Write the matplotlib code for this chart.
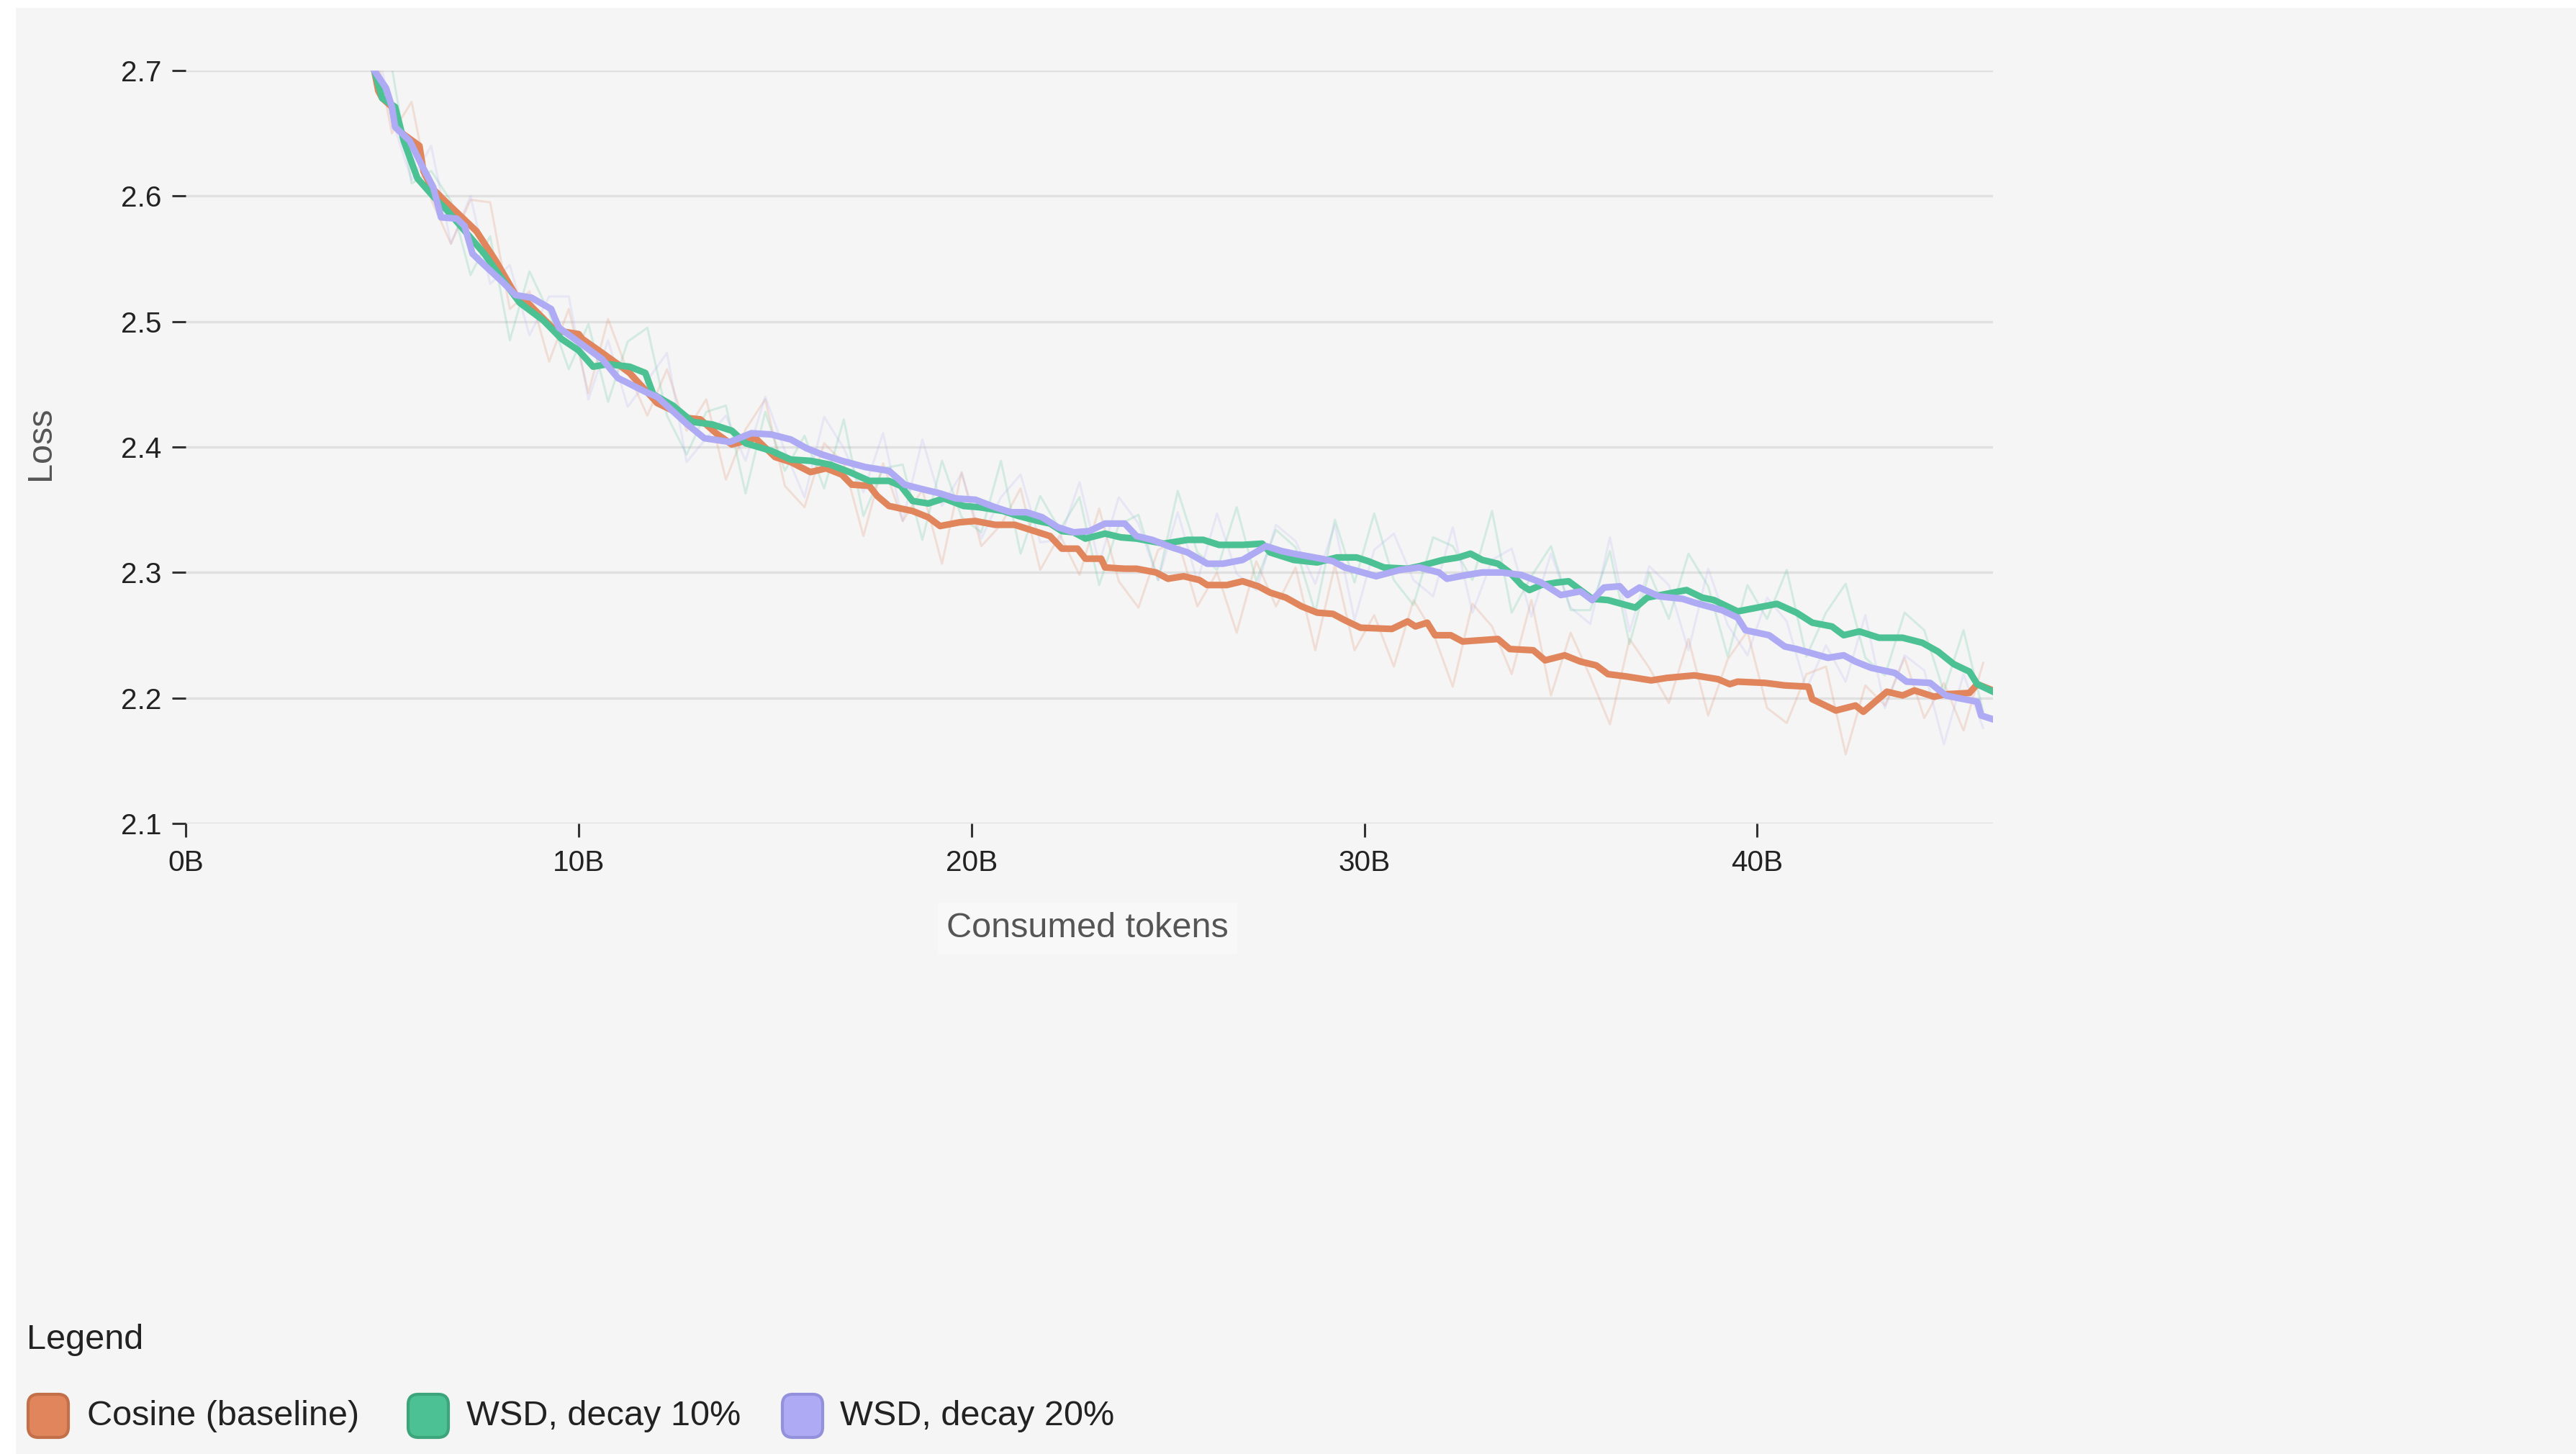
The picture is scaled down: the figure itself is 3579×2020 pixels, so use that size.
import numpy as np
import matplotlib
matplotlib.use("Agg")
import matplotlib.pyplot as plt
from matplotlib.patches import Rectangle, FancyBboxPatch

plt.rcParams['font.family'] = ['Liberation Sans', 'DejaVu Sans']

# smoothed loss curves (tokens in billions)
cos_x = [4.5, 4.8, 4.9, 5.0, 5.25, 5.35, 5.55, 5.95, 6.05, 6.25, 6.6, 7.1, 7.4, 7.9, 8.4,
         8.7, 9.4, 10.0, 10.1, 10.6, 11.0, 11.3, 12.0, 12.8, 13.1, 13.5, 13.9, 14.5, 14.7, 15.0,
         15.4, 15.9, 16.3, 16.7, 16.95, 17.4, 17.6, 17.9, 18.5, 18.9, 19.2, 19.7, 20.1, 20.6, 21.1,
         21.6, 22.0, 22.3, 22.7, 22.9, 23.3, 23.4, 23.9, 24.2, 24.7, 25.0, 25.4, 25.8, 26.0, 26.5,
         26.9, 27.3, 27.6, 28.0, 28.4, 28.8, 29.2, 29.5, 29.9, 30.7, 31.1, 31.3, 31.6, 31.8, 32.2,
         32.5, 33.4, 33.7, 34.3, 34.6, 35.1, 35.5, 35.9, 36.2, 36.7, 37.3, 37.7, 38.4, 39.0, 39.3,
         39.5, 40.2, 40.7, 41.3, 41.4, 42.0, 42.5, 42.7, 43.3, 43.7, 44.0, 44.5, 44.8, 45.4, 45.6,
         46.0]
cos_y = [2.76, 2.70, 2.684, 2.678, 2.671, 2.655, 2.649, 2.640, 2.620, 2.607, 2.596, 2.581, 2.572, 2.548, 2.521,
         2.515, 2.493, 2.490, 2.486, 2.475, 2.466, 2.459, 2.435, 2.423, 2.422, 2.411, 2.402, 2.407, 2.401, 2.392,
         2.388, 2.380, 2.383, 2.378, 2.370, 2.369, 2.361, 2.353, 2.349, 2.344, 2.337, 2.340, 2.341, 2.338, 2.338,
         2.333, 2.329, 2.319, 2.319, 2.311, 2.311, 2.304, 2.303, 2.303, 2.300, 2.295, 2.297, 2.294, 2.290, 2.290,
         2.293, 2.289, 2.284, 2.280, 2.273, 2.268, 2.267, 2.262, 2.256, 2.255, 2.261, 2.257, 2.260, 2.250, 2.250,
         2.245, 2.247, 2.239, 2.238, 2.230, 2.234, 2.229, 2.226, 2.219, 2.217, 2.214, 2.216, 2.218, 2.215, 2.211,
         2.213, 2.212, 2.210, 2.209, 2.199, 2.190, 2.194, 2.189, 2.205, 2.202, 2.206, 2.201, 2.203, 2.204, 2.211,
         2.206]

wsd10_x = [4.5, 4.8, 5.0, 5.33, 5.55, 5.77, 5.9, 6.35, 6.64, 7.0, 7.3, 7.6, 8.05, 8.5, 9.1,
           9.57, 10.0, 10.37, 10.74, 11.3, 11.7, 11.9, 12.4, 12.9, 13.4, 13.9, 14.25, 14.9, 15.4, 15.9,
           16.4, 16.9, 17.4, 17.9, 18.2, 18.5, 18.9, 19.3, 19.8, 20.2, 20.8, 21.2, 21.7, 22.0, 22.3,
           22.6, 22.9, 23.4, 23.8, 24.2, 24.9, 25.5, 25.9, 26.3, 26.9, 27.4, 27.6, 28.2, 28.8, 29.3,
           29.8, 30.1, 30.5, 31.1, 31.4, 32.0, 32.4, 32.7, 33.0, 33.4, 33.7, 34.0, 34.2, 34.5, 34.9,
           35.2, 35.8, 36.2, 36.9, 37.2, 37.7, 38.2, 38.6, 38.9, 39.5, 40.5, 41.0, 41.4, 41.9, 42.2,
           42.6, 43.1, 43.7, 44.2, 44.6, 45.0, 45.4, 45.6, 46.0]
wsd10_y = [2.76, 2.70, 2.678, 2.671, 2.644, 2.625, 2.614, 2.598, 2.589, 2.576, 2.565, 2.554, 2.534, 2.515, 2.501,
           2.486, 2.477, 2.464, 2.466, 2.464, 2.459, 2.442, 2.433, 2.420, 2.418, 2.413, 2.403, 2.397, 2.390, 2.389,
           2.386, 2.380, 2.373, 2.373, 2.369, 2.357, 2.355, 2.359, 2.353, 2.352, 2.349, 2.345, 2.341, 2.339, 2.333,
           2.332, 2.327, 2.331, 2.328, 2.327, 2.323, 2.326, 2.326, 2.322, 2.322, 2.323, 2.316, 2.310, 2.308, 2.312,
           2.312, 2.309, 2.304, 2.303, 2.305, 2.310, 2.312, 2.315, 2.310, 2.307, 2.300, 2.290, 2.286, 2.290, 2.292,
           2.293, 2.279, 2.278, 2.272, 2.280, 2.283, 2.286, 2.280, 2.278, 2.269, 2.275, 2.268, 2.260, 2.257, 2.250,
           2.253, 2.248, 2.248, 2.244, 2.237, 2.227, 2.221, 2.211, 2.205]

wsd20_x = [4.5, 4.8, 5.1, 5.25, 5.33, 5.7, 6.05, 6.3, 6.5, 6.9, 7.1, 7.3, 7.6, 8.05, 8.4,
           8.8, 9.3, 9.5, 9.9, 10.6, 11.0, 11.7, 12.0, 12.77, 13.2, 13.85, 14.4, 14.9, 15.4, 15.8,
           16.2, 16.7, 17.3, 17.9, 18.3, 18.8, 19.2, 19.6, 20.1, 20.6, 21.0, 21.4, 21.8, 22.2, 22.6,
           23.0, 23.4, 23.9, 24.2, 24.6, 25.1, 25.5, 26.0, 26.4, 26.9, 27.5, 27.9, 28.2, 28.9, 29.2,
           29.5, 30.3, 30.9, 31.4, 31.9, 32.1, 32.6, 33.0, 33.5, 34.0, 34.5, 35.0, 35.5, 35.8, 36.1,
           36.5, 36.7, 37.0, 37.5, 38.1, 38.4, 39.1, 39.5, 39.7, 40.3, 40.7, 41.0, 41.8, 42.2, 42.5,
           42.9, 43.5, 43.8, 44.4, 44.8, 45.1, 45.6, 45.7, 46.0]
wsd20_y = [2.76, 2.70, 2.686, 2.671, 2.655, 2.644, 2.622, 2.607, 2.583, 2.582, 2.576, 2.554, 2.545, 2.532, 2.521,
           2.519, 2.510, 2.495, 2.486, 2.470, 2.455, 2.444, 2.440, 2.418, 2.407, 2.404, 2.411, 2.410, 2.406, 2.399,
           2.394, 2.389, 2.384, 2.381, 2.370, 2.366, 2.363, 2.359, 2.358, 2.352, 2.348, 2.348, 2.344, 2.336, 2.332,
           2.333, 2.339, 2.339, 2.329, 2.326, 2.320, 2.316, 2.307, 2.307, 2.310, 2.321, 2.317, 2.315, 2.311, 2.309,
           2.304, 2.297, 2.302, 2.304, 2.300, 2.295, 2.298, 2.300, 2.300, 2.298, 2.292, 2.282, 2.285, 2.278, 2.288,
           2.289, 2.282, 2.288, 2.281, 2.279, 2.276, 2.270, 2.264, 2.254, 2.250, 2.241, 2.239, 2.232, 2.234, 2.229,
           2.224, 2.220, 2.213, 2.212, 2.202, 2.200, 2.197, 2.186, 2.183]

# raw (unsmoothed) loss, logged every 0.5B tokens
raw_x = np.arange(4.75, 46.0, 0.5)
cos_raw = [2.73, 2.65, 2.675, 2.597, 2.562, 2.597, 2.595, 2.51, 2.524, 2.468,
           2.51, 2.443, 2.502, 2.46, 2.425, 2.462, 2.413, 2.438, 2.374, 2.414,
           2.438, 2.369, 2.352, 2.403, 2.387, 2.329, 2.387, 2.341, 2.366, 2.307,
           2.38, 2.321, 2.338, 2.367, 2.302, 2.33, 2.298, 2.351, 2.293, 2.272,
           2.318, 2.326, 2.273, 2.30, 2.252, 2.309, 2.273, 2.304, 2.238, 2.306,
           2.238, 2.266, 2.225, 2.278, 2.252, 2.209, 2.275, 2.257, 2.219, 2.278,
           2.202, 2.252, 2.217, 2.179, 2.247, 2.224, 2.196, 2.247, 2.186, 2.231,
           2.253, 2.192, 2.18, 2.219, 2.225, 2.155, 2.21, 2.194, 2.232, 2.184,
           2.212, 2.174, 2.228]
wsd10_raw = [2.70, 2.702, 2.61, 2.62, 2.596, 2.537, 2.568, 2.485, 2.54, 2.507,
             2.462, 2.498, 2.436, 2.484, 2.495, 2.425, 2.394, 2.428, 2.433, 2.363,
             2.428, 2.381, 2.409, 2.367, 2.422, 2.345, 2.383, 2.386, 2.326, 2.389,
             2.344, 2.332, 2.389, 2.315, 2.361, 2.334, 2.36, 2.29, 2.338, 2.346,
             2.294, 2.365, 2.316, 2.302, 2.352, 2.293, 2.334, 2.32, 2.268, 2.342,
             2.292, 2.347, 2.294, 2.274, 2.328, 2.321, 2.294, 2.349, 2.268, 2.297,
             2.321, 2.27, 2.27, 2.317, 2.243, 2.30, 2.263, 2.315, 2.289, 2.233,
             2.29, 2.263, 2.302, 2.233, 2.268, 2.291, 2.232, 2.218, 2.268, 2.254,
             2.205, 2.254, 2.189]
wsd20_raw = [2.74, 2.661, 2.613, 2.64, 2.562, 2.60, 2.53, 2.545, 2.489, 2.52,
             2.52, 2.438, 2.485, 2.432, 2.453, 2.475, 2.388, 2.407, 2.425, 2.389,
             2.44, 2.397, 2.36, 2.424, 2.399, 2.364, 2.411, 2.341, 2.406, 2.353,
             2.379, 2.327, 2.36, 2.378, 2.324, 2.326, 2.372, 2.307, 2.36, 2.339,
             2.294, 2.348, 2.293, 2.347, 2.299, 2.286, 2.338, 2.325, 2.291, 2.338,
             2.262, 2.318, 2.331, 2.294, 2.281, 2.336, 2.268, 2.31, 2.319, 2.265,
             2.315, 2.272, 2.259, 2.328, 2.253, 2.305, 2.29, 2.238, 2.303, 2.258,
             2.234, 2.28, 2.261, 2.207, 2.242, 2.213, 2.266, 2.192, 2.234, 2.222,
             2.163, 2.219, 2.176]

labels = ['Cosine (baseline)', 'WSD, decay 10%', 'WSD, decay 20%']
colors = ['#e0855c', '#4cc193', '#aeaaf4']
edges = ['#c26f4a', '#3ca57b', '#9390dc']
x_ticks = [0, 10, 20, 30, 40]
y_ticks = [2.1, 2.2, 2.3, 2.4, 2.5, 2.6, 2.7]

BG = '#f5f5f5'
fig = plt.figure(figsize=(17.9, 10.1), dpi=200, facecolor=BG)
W, H = 3580, 2020
# thin white margin on the left and top edges
fig.patches.append(Rectangle((0, 0), 22 / W, 1, transform=fig.transFigure,
                             facecolor='white', edgecolor='none', zorder=0))
fig.patches.append(Rectangle((0, 1 - 11 / H), 1, 11 / H, transform=fig.transFigure,
                             facecolor='white', edgecolor='none', zorder=0))

ax = fig.add_axes([258 / W, 1 - 1144 / H, (2769 - 258) / W, (1144 - 98) / H])
ax.set_facecolor(BG)
for s in ax.spines.values():
    s.set_visible(False)

for yt in y_ticks:
    ax.axhline(yt, color='#e0e0e0', lw=1.2, zorder=0)

series = [(cos_x, cos_y, cos_raw), (wsd10_x, wsd10_y, wsd10_raw), (wsd20_x, wsd20_y, wsd20_raw)]
for (sx, sy, sr), c in zip(series, colors):
    ax.plot(raw_x, sr, color=c, lw=1.1, alpha=0.2, zorder=1)
for (sx, sy, sr), c in zip(series, colors):
    ax.plot(sx, sy, color=c, lw=3.3, solid_joinstyle='round', zorder=3)

ax.set_xlim(0, 46)
ax.set_ylim(2.1, 2.7)
ax.set_xticks(x_ticks)
ax.set_xticklabels([f'{t}B' for t in x_ticks])
ax.set_yticks(y_ticks)
ax.set_yticklabels([f'{t:.1f}' for t in y_ticks])
ax.tick_params(axis='both', direction='out', length=7, width=1.1, color='#333333',
               labelsize=14.6, labelcolor='#222222')
ax.tick_params(axis='y', pad=5)
ax.tick_params(axis='x', pad=6)

fig.text(1511 / W, 1 - 1290 / H, 'Consumed tokens', ha='center', va='center',
         fontsize=17.5, color='#555555',
         bbox=dict(boxstyle='square,pad=0.25', facecolor='#f8f8f8', edgecolor='none'))
fig.text(57 / W, 1 - 616 / H, 'Loss', ha='center', va='center', rotation=90,
         fontsize=17.5, color='#555555')

# legend block below the chart
fig.text(37 / W, 1 - 1862 / H, 'Legend', ha='left', va='center', fontsize=17.5, color='#222222')
sw_x = [39, 567, 1087]
txt_x = [121, 648, 1167]
for lab, c, ec, sx0, tx in zip(labels, colors, edges, sw_x, txt_x):
    box = FancyBboxPatch((sx0 / W, 1 - 1997 / H), 56 / W, 60 / H,
                         boxstyle='round,pad=0,rounding_size=0.004',
                         transform=fig.transFigure, facecolor=c, edgecolor=ec, lw=1.5,
                         mutation_aspect=W / H)
    fig.patches.append(box)
    fig.text(tx / W, 1 - 1968 / H, lab, ha='left', va='center', fontsize=17.5, color='#222222')

fig.savefig('out.png', dpi=200, facecolor=BG)
